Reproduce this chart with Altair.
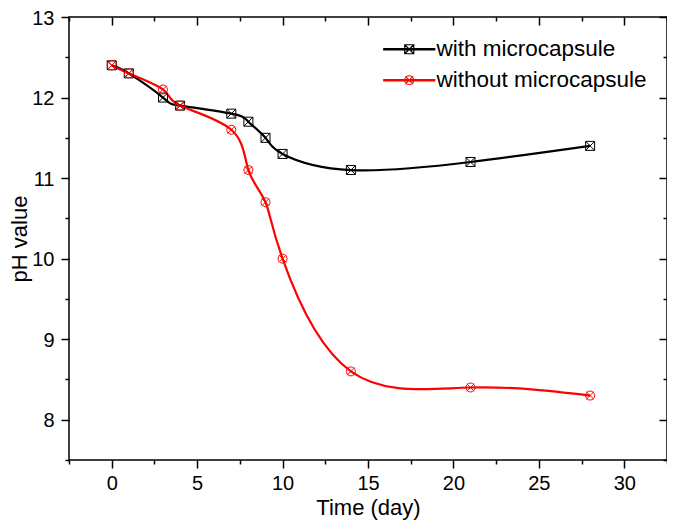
import altair as alt
import pandas as pd

# ---- data ----
days = [0, 1, 3, 4, 7, 8, 9, 10, 14, 21, 28]
ph_with = [12.4, 12.3, 12.0, 11.9, 11.8, 11.7, 11.5, 11.3, 11.1, 11.2, 11.4]
ph_without = [12.4, 12.3, 12.1, 11.9, 11.6, 11.1, 10.7, 10.0, 8.6, 8.4, 8.3]
series = ["with microcapsule", "without microcapsule"]
markers = ["m_with", "m_without"]
colors = ["#000000", "#FF0000"]
x_major = [0, 5, 10, 15, 20, 25, 30]
x_minor = [-2.5, 2.5, 7.5, 12.5, 17.5, 22.5, 27.5, 32.5]
y_major = [8, 9, 10, 11, 12, 13]
y_minor = [7.5, 8.5, 9.5, 10.5, 11.5, 12.5]

df = pd.DataFrame({
    "day": days + days,
    "ph": ph_with + ph_without,
    "series": [series[0]] * len(days) + [series[1]] * len(days),
    "marker": [markers[0]] * len(days) + [markers[1]] * len(days),
})

FONT = "Liberation Sans"
W, H = 598, 443

xs = alt.Scale(domain=[-2.5, 32.5], nice=False, zero=False)
ys = alt.Scale(domain=[7.5, 13], nice=False, zero=False)
cs = alt.Scale(domain=series, range=colors)

sq = "M-1,-1H1V1H-1Z M-1,-1L1,1 M1,-1L-1,1"
ci = "M1,0A1,1,0,1,1,-1,0A1,1,0,1,1,1,0Z M-0.85,-0.85L0.85,0.85 M0.85,-0.85L-0.85,0.85"
lp = "M-5.8,-0.13H5.8 M-5.8,0.13H5.8 "
# markers in the plot; the series names map to the legend symbols (line + marker)
shape_scale = alt.Scale(domain=markers + series, range=[sq, ci, lp + sq, lp + ci])
legend_symbol_expr = "datum.value == '%s' ? '%s' : '%s'" % (series[0], lp + sq, lp + ci)


def axis(**kw):
    base = dict(domain=False, grid=False, tickColor="black", tickWidth=1.5,
                labelFont=FONT, labelColor="black", labelFontSize=20,
                titleFont=FONT, titleColor="black", titleFontSize=22,
                titleFontWeight="normal", labelOverlap=False, labelFlush=False)
    base.update(kw)
    return alt.Axis(**base)


base = alt.Chart(df)

legend_layer = base.transform_filter("datum.day < -100").mark_point(
    filled=False, strokeWidth=1.2, opacity=1
).encode(
    x=alt.X("day:Q", scale=xs,
            axis=axis(values=x_major, tickSize=8, labels=False, title=None,
                      orient="top", offset=-8)),
    y=alt.Y("ph:Q", scale=ys,
            axis=axis(values=y_major, tickSize=8, labels=False, title=None,
                      orient="right", offset=-8)),
    color=alt.Color("series:N", scale=cs, legend=alt.Legend(
        orient="none", legendX=329, legendY=21,
        title=None, labelFont=FONT, labelFontSize=22.5,
        labelColor="black", labelLimit=0, symbolSize=81,
        symbolStrokeWidth=1.2, symbolOpacity=1, labelOffset=16,
        rowPadding=8, symbolType={"expr": legend_symbol_expr})),
)

lines = base.mark_line(interpolate="natural", strokeWidth=2.2).encode(
    x=alt.X("day:Q", scale=xs,
            axis=axis(values=x_major, tickSize=8, labelPadding=5, format="d",
                      title="Time (day)", titlePadding=4)),
    y=alt.Y("ph:Q", scale=ys,
            axis=axis(values=y_major, tickSize=8, labelPadding=7, format="d",
                      labelBaseline="alphabetic", labelOffset=7,
                      title="pH value", titlePadding=0)),
    color=alt.Color("series:N", scale=cs),
)

points = base.mark_point(filled=False, size=81, strokeWidth=1, opacity=1).encode(
    x=alt.X("day:Q", scale=xs,
            axis=axis(values=x_minor, tickSize=4, labels=False, title=None)),
    y=alt.Y("ph:Q", scale=ys,
            axis=axis(values=y_minor, tickSize=4, labels=False, title=None)),
    color=alt.Color("series:N", scale=cs),
    shape=alt.Shape("marker:N", scale=shape_scale, legend=None),
)

minor_layer = base.transform_filter("datum.day < -100").mark_point().encode(
    x=alt.X("day:Q", scale=xs,
            axis=axis(values=x_minor, tickSize=4, labels=False, title=None,
                      orient="top", offset=-4)),
    y=alt.Y("ph:Q", scale=ys,
            axis=axis(values=y_minor, tickSize=4, labels=False, title=None,
                      orient="right", offset=-4)),
)

chart = alt.layer(legend_layer, lines, points, minor_layer).resolve_axis(
    x="independent", y="independent"
).properties(
    width=W, height=H,
    autosize=alt.AutoSizeParams(type="none"),
    padding={"left": 61, "top": 9, "right": 0, "bottom": 64},
).configure_view(stroke="black", strokeWidth=1.5)

chart.save("out.html", embed_options={"renderer": "svg", "actions": False})
